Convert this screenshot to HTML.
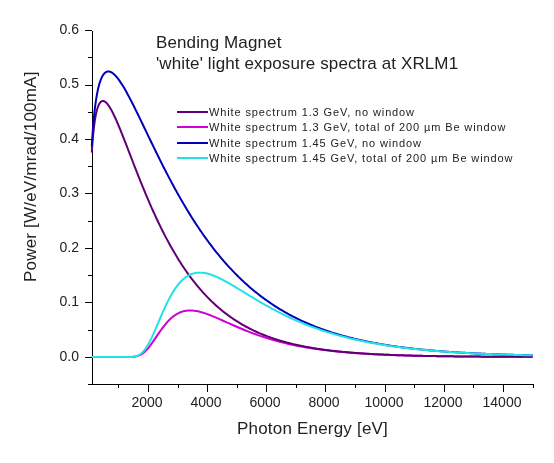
<!DOCTYPE html>
<html><head><meta charset="utf-8"><style>
html,body{margin:0;padding:0;background:#fff;}
body{width:554px;height:463px;position:relative;overflow:hidden;}
svg{position:absolute;left:0;top:0;}
.t{position:absolute;will-change:transform;font-family:"Liberation Sans",sans-serif;color:#222;white-space:pre;line-height:1;}
.yl{left:40px;width:39px;text-align:right;font-size:14px;}
.xl{top:395px;width:80px;text-align:center;font-size:14px;}
.ti{left:156px;font-size:17px;letter-spacing:0.12px;}
.lg{left:209px;font-size:11px;letter-spacing:0.88px;}
.ax{font-size:17px;letter-spacing:0.2px;}
</style></head><body>
<svg width="554" height="463" viewBox="0 0 554 463">
<g stroke="#000" stroke-width="1" fill="none" shape-rendering="crispEdges"><path d="M92.5 31 V384.5" /><path d="M85 357.5 H92" /><path d="M88 330.5 H92" /><path d="M85 302.5 H92" /><path d="M88 275.5 H92" /><path d="M85 248.5 H92" /><path d="M88 221.5 H92" /><path d="M85 193.5 H92" /><path d="M88 166.5 H92" /><path d="M85 139.5 H92" /><path d="M88 112.5 H92" /><path d="M85 85.5 H92" /><path d="M88 57.5 H92" /><path d="M85 30.5 H92" /><path d="M88 384.5 H534" /><path d="M118.5 384 V388" /><path d="M148.5 384 V392" /><path d="M178.5 384 V388" /><path d="M207.5 384 V392" /><path d="M237.5 384 V388" /><path d="M266.5 384 V392" /><path d="M296.5 384 V388" /><path d="M325.5 384 V392" /><path d="M355.5 384 V388" /><path d="M385.5 384 V392" /><path d="M414.5 384 V388" /><path d="M444.5 384 V392" /><path d="M473.5 384 V388" /><path d="M503.5 384 V392" /><path d="M533.5 384 V388" /></g>
<g fill="none" stroke-linejoin="round"><path d="M91.79 357.00 L92.08 357.00 L92.38 357.00 L92.68 357.00 L92.97 357.00 L93.27 357.00 L93.56 357.00 L93.86 357.00 L94.15 357.00 L94.45 357.00 L94.75 357.00 L95.04 357.00 L95.34 357.00 L95.63 357.00 L95.93 357.00 L96.23 357.00 L96.52 357.00 L96.82 357.00 L97.11 357.00 L97.41 357.00 L97.70 357.00 L98.00 357.00 L98.30 357.00 L98.59 357.00 L98.89 357.00 L99.18 357.00 L99.48 357.00 L99.78 357.00 L100.07 357.00 L100.37 357.00 L100.66 357.00 L100.96 357.00 L101.25 357.00 L101.55 357.00 L101.85 357.00 L102.14 357.00 L102.44 357.00 L102.73 357.00 L103.03 357.00 L103.33 357.00 L103.62 357.00 L103.92 357.00 L104.21 357.00 L104.51 357.00 L104.80 357.00 L105.10 357.00 L105.40 357.00 L105.69 357.00 L105.99 357.00 L106.28 357.00 L106.58 357.00 L106.88 357.00 L107.17 357.00 L107.47 357.00 L107.76 357.00 L108.06 357.00 L108.35 357.00 L108.65 357.00 L108.95 357.00 L109.24 357.00 L109.54 357.00 L109.83 357.00 L110.13 357.00 L110.43 357.00 L110.72 357.00 L111.02 357.00 L111.31 357.00 L111.61 357.00 L111.90 357.00 L112.20 357.00 L112.50 357.00 L112.79 357.00 L113.09 357.00 L113.38 357.00 L113.68 357.00 L113.98 357.00 L114.27 357.00 L114.57 357.00 L114.86 357.00 L115.16 357.00 L115.45 357.00 L115.75 357.00 L116.05 357.00 L116.34 357.00 L116.64 357.00 L116.93 357.00 L117.23 357.00 L117.53 357.00 L117.82 357.00 L118.12 357.00 L118.41 357.00 L119.60 357.00 L120.78 357.00 L121.96 357.00 L123.15 357.00 L124.33 357.00 L125.51 357.00 L126.70 357.00 L127.88 356.99 L129.06 356.98 L130.25 356.96 L131.43 356.92 L132.61 356.86 L133.80 356.76 L134.98 356.61 L136.16 356.39 L137.35 356.09 L138.53 355.70 L139.71 355.20 L140.90 354.59 L142.08 353.85 L143.26 352.98 L144.45 351.99 L145.63 350.88 L146.81 349.65 L148.00 348.32 L149.18 346.86 L150.36 345.32 L151.55 343.71 L152.73 342.04 L153.91 340.33 L155.10 338.60 L156.28 336.85 L157.46 335.11 L158.65 333.38 L159.83 331.67 L161.01 330.01 L162.20 328.39 L163.38 326.82 L164.56 325.31 L165.75 323.87 L166.93 322.50 L168.11 321.20 L169.30 319.98 L170.48 318.84 L171.66 317.78 L172.85 316.80 L174.03 315.89 L175.21 315.06 L176.40 314.32 L177.58 313.64 L178.76 313.03 L179.95 312.50 L181.13 312.03 L182.31 311.63 L183.50 311.30 L184.68 311.03 L185.86 310.82 L187.05 310.66 L188.23 310.56 L189.41 310.50 L190.60 310.50 L191.78 310.54 L192.96 310.62 L194.15 310.74 L195.33 310.90 L196.51 311.10 L197.70 311.33 L198.88 311.59 L200.06 311.88 L201.25 312.19 L202.43 312.53 L203.61 312.89 L204.80 313.27 L205.98 313.67 L207.16 314.08 L208.35 314.52 L209.53 314.97 L210.71 315.43 L211.90 315.91 L213.08 316.39 L214.26 316.89 L215.45 317.39 L216.63 317.89 L217.81 318.41 L219.00 318.92 L220.18 319.44 L221.36 319.97 L222.55 320.49 L223.73 321.02 L224.91 321.55 L226.10 322.08 L227.28 322.61 L228.46 323.14 L229.65 323.66 L230.83 324.19 L232.01 324.71 L233.20 325.23 L234.38 325.75 L235.56 326.26 L236.75 326.77 L237.93 327.28 L239.11 327.79 L240.29 328.29 L241.48 328.78 L242.66 329.28 L243.84 329.76 L245.03 330.24 L246.21 330.72 L247.39 331.19 L248.58 331.65 L249.76 332.11 L250.94 332.56 L252.13 333.01 L253.31 333.45 L254.49 333.89 L255.68 334.31 L256.86 334.74 L258.04 335.15 L259.23 335.57 L260.41 335.97 L261.59 336.37 L262.78 336.76 L263.96 337.15 L265.14 337.53 L266.33 337.90 L267.51 338.27 L268.69 338.64 L269.88 339.00 L271.06 339.35 L272.24 339.70 L273.43 340.04 L274.61 340.37 L275.79 340.70 L276.98 341.03 L278.16 341.35 L279.34 341.66 L280.53 341.96 L281.71 342.27 L282.89 342.56 L284.08 342.85 L285.26 343.14 L286.44 343.42 L287.63 343.69 L288.81 343.96 L289.99 344.23 L291.18 344.49 L292.36 344.74 L293.54 344.99 L294.73 345.24 L295.91 345.48 L297.09 345.72 L298.28 345.95 L299.46 346.18 L300.64 346.40 L301.83 346.62 L303.01 346.83 L304.19 347.04 L305.38 347.25 L306.56 347.45 L307.74 347.65 L308.93 347.84 L310.11 348.04 L311.29 348.22 L312.48 348.41 L313.66 348.59 L314.84 348.76 L316.03 348.93 L317.21 349.10 L318.39 349.27 L319.58 349.43 L320.76 349.59 L321.94 349.75 L323.13 349.90 L324.31 350.05 L325.49 350.20 L326.68 350.34 L327.86 350.48 L329.04 350.62 L330.23 350.76 L331.41 350.89 L332.59 351.02 L333.78 351.15 L334.96 351.27 L336.14 351.40 L337.33 351.52 L338.51 351.63 L339.69 351.75 L340.88 351.86 L342.06 351.97 L343.24 352.08 L344.43 352.18 L345.61 352.29 L346.79 352.39 L347.98 352.49 L349.16 352.59 L350.34 352.68 L351.53 352.77 L352.71 352.86 L353.89 352.95 L355.08 353.04 L356.26 353.13 L357.44 353.21 L358.63 353.29 L359.81 353.37 L360.99 353.45 L362.18 353.53 L363.36 353.60 L364.54 353.68 L365.73 353.75 L366.91 353.82 L368.09 353.89 L369.28 353.96 L370.46 354.02 L371.64 354.09 L372.83 354.15 L374.01 354.21 L375.19 354.27 L376.38 354.33 L377.56 354.39 L378.74 354.45 L379.93 354.50 L381.11 354.56 L382.29 354.61 L383.48 354.66 L384.66 354.71 L385.84 354.76 L387.03 354.81 L388.21 354.86 L389.39 354.91 L390.58 354.95 L391.76 355.00 L392.94 355.04 L394.13 355.09 L395.31 355.13 L396.49 355.17 L397.68 355.21 L398.86 355.25 L400.04 355.29 L401.23 355.32 L402.41 355.36 L403.59 355.40 L404.78 355.43 L405.96 355.47 L407.14 355.50 L408.33 355.53 L409.51 355.57 L410.69 355.60 L411.88 355.63 L413.06 355.66 L414.24 355.69 L415.43 355.72 L416.61 355.75 L417.79 355.77 L418.98 355.80 L420.16 355.83 L421.34 355.85 L422.53 355.88 L423.71 355.90 L424.89 355.93 L426.08 355.95 L427.26 355.98 L428.44 356.00 L429.63 356.02 L430.81 356.04 L431.99 356.06 L433.18 356.08 L434.36 356.10 L435.54 356.12 L436.73 356.14 L437.91 356.16 L439.09 356.18 L440.28 356.20 L441.46 356.22 L442.64 356.23 L443.83 356.25 L445.01 356.27 L446.19 356.28 L447.38 356.30 L448.56 356.32 L449.74 356.33 L450.93 356.35 L452.11 356.36 L453.29 356.37 L454.48 356.39 L455.66 356.40 L456.84 356.42 L458.03 356.43 L459.21 356.44 L460.39 356.45 L461.58 356.47 L462.76 356.48 L463.94 356.49 L465.13 356.50 L466.31 356.51 L467.49 356.52 L468.68 356.53 L469.86 356.54 L471.04 356.55 L472.23 356.56 L473.41 356.57 L474.59 356.58 L475.78 356.59 L476.96 356.60 L478.14 356.61 L479.33 356.62 L480.51 356.63 L481.69 356.64 L482.88 356.64 L484.06 356.65 L485.24 356.66 L486.43 356.67 L487.61 356.68 L488.79 356.68 L489.98 356.69 L491.16 356.70 L492.34 356.70 L493.53 356.71 L494.71 356.72 L495.89 356.72 L497.08 356.73 L498.26 356.74 L499.44 356.74 L500.63 356.75 L501.81 356.75 L502.99 356.76 L504.18 356.76 L505.36 356.77 L506.54 356.77 L507.73 356.78 L508.91 356.78 L510.09 356.79 L511.28 356.79 L512.46 356.80 L513.64 356.80 L514.83 356.81 L516.01 356.81 L517.19 356.82 L518.38 356.82 L519.56 356.82 L520.74 356.83 L521.93 356.83 L523.11 356.84 L524.29 356.84 L525.48 356.84 L526.66 356.85 L527.84 356.85 L529.03 356.85 L530.21 356.86 L531.39 356.86 L532.58 356.86" stroke="#d000d8" stroke-width="2" fill="none"/><path d="M91.79 152.50 L92.08 147.92 L92.38 143.79 L92.68 140.03 L92.97 136.60 L93.27 133.47 L93.56 130.60 L93.86 127.96 L94.15 125.53 L94.45 123.30 L94.75 121.23 L95.04 119.33 L95.34 117.57 L95.63 115.94 L95.93 114.44 L96.23 113.05 L96.52 111.77 L96.82 110.59 L97.11 109.51 L97.41 108.51 L97.70 107.59 L98.00 106.75 L98.30 105.98 L98.59 105.29 L98.89 104.65 L99.18 104.08 L99.48 103.57 L99.78 103.11 L100.07 102.70 L100.37 102.34 L100.66 102.03 L100.96 101.76 L101.25 101.54 L101.55 101.36 L101.85 101.22 L102.14 101.11 L102.44 101.04 L102.73 101.00 L103.03 101.00 L103.33 101.03 L103.62 101.09 L103.92 101.17 L104.21 101.28 L104.51 101.42 L104.80 101.59 L105.10 101.78 L105.40 101.99 L105.69 102.23 L105.99 102.48 L106.28 102.76 L106.58 103.06 L106.88 103.37 L107.17 103.71 L107.47 104.06 L107.76 104.43 L108.06 104.81 L108.35 105.22 L108.65 105.63 L108.95 106.06 L109.24 106.51 L109.54 106.97 L109.83 107.44 L110.13 107.93 L110.43 108.42 L110.72 108.93 L111.02 109.45 L111.31 109.99 L111.61 110.53 L111.90 111.08 L112.20 111.64 L112.50 112.21 L112.79 112.79 L113.09 113.38 L113.38 113.98 L113.68 114.58 L113.98 115.20 L114.27 115.82 L114.57 116.45 L114.86 117.08 L115.16 117.72 L115.45 118.37 L115.75 119.03 L116.05 119.69 L116.34 120.35 L116.64 121.02 L116.93 121.70 L117.23 122.38 L117.53 123.07 L117.82 123.76 L118.12 124.46 L118.41 125.16 L119.60 128.00 L120.78 130.90 L121.96 133.84 L123.15 136.83 L124.33 139.84 L125.51 142.87 L126.70 145.92 L127.88 148.99 L129.06 152.06 L130.25 155.13 L131.43 158.20 L132.61 161.26 L133.80 164.32 L134.98 167.36 L136.16 170.39 L137.35 173.40 L138.53 176.39 L139.71 179.36 L140.90 182.30 L142.08 185.23 L143.26 188.12 L144.45 190.99 L145.63 193.83 L146.81 196.64 L148.00 199.42 L149.18 202.17 L150.36 204.89 L151.55 207.57 L152.73 210.23 L153.91 212.84 L155.10 215.43 L156.28 217.98 L157.46 220.50 L158.65 222.98 L159.83 225.43 L161.01 227.84 L162.20 230.22 L163.38 232.56 L164.56 234.87 L165.75 237.14 L166.93 239.38 L168.11 241.59 L169.30 243.76 L170.48 245.90 L171.66 248.00 L172.85 250.07 L174.03 252.11 L175.21 254.11 L176.40 256.08 L177.58 258.02 L178.76 259.92 L179.95 261.80 L181.13 263.64 L182.31 265.45 L183.50 267.23 L184.68 268.98 L185.86 270.70 L187.05 272.39 L188.23 274.05 L189.41 275.68 L190.60 277.28 L191.78 278.85 L192.96 280.40 L194.15 281.91 L195.33 283.40 L196.51 284.87 L197.70 286.30 L198.88 287.71 L200.06 289.10 L201.25 290.46 L202.43 291.79 L203.61 293.10 L204.80 294.38 L205.98 295.65 L207.16 296.88 L208.35 298.10 L209.53 299.29 L210.71 300.46 L211.90 301.60 L213.08 302.73 L214.26 303.83 L215.45 304.92 L216.63 305.98 L217.81 307.02 L219.00 308.04 L220.18 309.04 L221.36 310.03 L222.55 310.99 L223.73 311.94 L224.91 312.86 L226.10 313.77 L227.28 314.66 L228.46 315.54 L229.65 316.39 L230.83 317.23 L232.01 318.05 L233.20 318.86 L234.38 319.65 L235.56 320.43 L236.75 321.19 L237.93 321.93 L239.11 322.66 L240.29 323.38 L241.48 324.08 L242.66 324.77 L243.84 325.44 L245.03 326.10 L246.21 326.75 L247.39 327.38 L248.58 328.00 L249.76 328.61 L250.94 329.20 L252.13 329.79 L253.31 330.36 L254.49 330.92 L255.68 331.47 L256.86 332.01 L258.04 332.54 L259.23 333.05 L260.41 333.56 L261.59 334.05 L262.78 334.54 L263.96 335.01 L265.14 335.48 L266.33 335.94 L267.51 336.38 L268.69 336.82 L269.88 337.25 L271.06 337.67 L272.24 338.08 L273.43 338.48 L274.61 338.88 L275.79 339.26 L276.98 339.64 L278.16 340.01 L279.34 340.37 L280.53 340.73 L281.71 341.08 L282.89 341.42 L284.08 341.75 L285.26 342.08 L286.44 342.40 L287.63 342.71 L288.81 343.02 L289.99 343.32 L291.18 343.61 L292.36 343.90 L293.54 344.18 L294.73 344.45 L295.91 344.72 L297.09 344.99 L298.28 345.25 L299.46 345.50 L300.64 345.75 L301.83 345.99 L303.01 346.23 L304.19 346.46 L305.38 346.69 L306.56 346.91 L307.74 347.13 L308.93 347.34 L310.11 347.55 L311.29 347.76 L312.48 347.96 L313.66 348.15 L314.84 348.34 L316.03 348.53 L317.21 348.71 L318.39 348.89 L319.58 349.07 L320.76 349.24 L321.94 349.41 L323.13 349.58 L324.31 349.74 L325.49 349.89 L326.68 350.05 L327.86 350.20 L329.04 350.35 L330.23 350.49 L331.41 350.64 L332.59 350.77 L333.78 350.91 L334.96 351.04 L336.14 351.17 L337.33 351.30 L338.51 351.42 L339.69 351.55 L340.88 351.67 L342.06 351.78 L343.24 351.90 L344.43 352.01 L345.61 352.12 L346.79 352.22 L347.98 352.33 L349.16 352.43 L350.34 352.53 L351.53 352.63 L352.71 352.72 L353.89 352.82 L355.08 352.91 L356.26 353.00 L357.44 353.09 L358.63 353.17 L359.81 353.26 L360.99 353.34 L362.18 353.42 L363.36 353.50 L364.54 353.58 L365.73 353.65 L366.91 353.72 L368.09 353.80 L369.28 353.87 L370.46 353.94 L371.64 354.00 L372.83 354.07 L374.01 354.13 L375.19 354.20 L376.38 354.26 L377.56 354.32 L378.74 354.38 L379.93 354.44 L381.11 354.49 L382.29 354.55 L383.48 354.60 L384.66 354.66 L385.84 354.71 L387.03 354.76 L388.21 354.81 L389.39 354.86 L390.58 354.90 L391.76 354.95 L392.94 355.00 L394.13 355.04 L395.31 355.08 L396.49 355.13 L397.68 355.17 L398.86 355.21 L400.04 355.25 L401.23 355.29 L402.41 355.32 L403.59 355.36 L404.78 355.40 L405.96 355.43 L407.14 355.47 L408.33 355.50 L409.51 355.54 L410.69 355.57 L411.88 355.60 L413.06 355.63 L414.24 355.66 L415.43 355.69 L416.61 355.72 L417.79 355.75 L418.98 355.78 L420.16 355.80 L421.34 355.83 L422.53 355.86 L423.71 355.88 L424.89 355.91 L426.08 355.93 L427.26 355.95 L428.44 355.98 L429.63 356.00 L430.81 356.02 L431.99 356.04 L433.18 356.07 L434.36 356.09 L435.54 356.11 L436.73 356.13 L437.91 356.15 L439.09 356.17 L440.28 356.18 L441.46 356.20 L442.64 356.22 L443.83 356.24 L445.01 356.25 L446.19 356.27 L447.38 356.29 L448.56 356.30 L449.74 356.32 L450.93 356.33 L452.11 356.35 L453.29 356.36 L454.48 356.38 L455.66 356.39 L456.84 356.41 L458.03 356.42 L459.21 356.43 L460.39 356.44 L461.58 356.46 L462.76 356.47 L463.94 356.48 L465.13 356.49 L466.31 356.50 L467.49 356.52 L468.68 356.53 L469.86 356.54 L471.04 356.55 L472.23 356.56 L473.41 356.57 L474.59 356.58 L475.78 356.59 L476.96 356.60 L478.14 356.60 L479.33 356.61 L480.51 356.62 L481.69 356.63 L482.88 356.64 L484.06 356.65 L485.24 356.66 L486.43 356.66 L487.61 356.67 L488.79 356.68 L489.98 356.69 L491.16 356.69 L492.34 356.70 L493.53 356.71 L494.71 356.71 L495.89 356.72 L497.08 356.73 L498.26 356.73 L499.44 356.74 L500.63 356.74 L501.81 356.75 L502.99 356.75 L504.18 356.76 L505.36 356.77 L506.54 356.77 L507.73 356.78 L508.91 356.78 L510.09 356.79 L511.28 356.79 L512.46 356.80 L513.64 356.80 L514.83 356.80 L516.01 356.81 L517.19 356.81 L518.38 356.82 L519.56 356.82 L520.74 356.83 L521.93 356.83 L523.11 356.83 L524.29 356.84 L525.48 356.84 L526.66 356.84 L527.84 356.85 L529.03 356.85 L530.21 356.85 L531.39 356.86 L532.58 356.86" stroke="#600074" stroke-width="2" fill="none"/><path d="M91.79 146.62 L92.08 141.46 L92.38 136.75 L92.68 132.42 L92.97 128.43 L93.27 124.73 L93.56 121.29 L93.86 118.09 L94.15 115.11 L94.45 112.31 L94.75 109.69 L95.04 107.24 L95.34 104.93 L95.63 102.76 L95.93 100.71 L96.23 98.78 L96.52 96.97 L96.82 95.25 L97.11 93.64 L97.41 92.11 L97.70 90.67 L98.00 89.31 L98.30 88.02 L98.59 86.81 L98.89 85.66 L99.18 84.58 L99.48 83.55 L99.78 82.59 L100.07 81.68 L100.37 80.83 L100.66 80.02 L100.96 79.27 L101.25 78.55 L101.55 77.89 L101.85 77.26 L102.14 76.68 L102.44 76.13 L102.73 75.62 L103.03 75.15 L103.33 74.71 L103.62 74.30 L103.92 73.93 L104.21 73.59 L104.51 73.27 L104.80 72.99 L105.10 72.73 L105.40 72.50 L105.69 72.29 L105.99 72.11 L106.28 71.95 L106.58 71.82 L106.88 71.71 L107.17 71.62 L107.47 71.55 L107.76 71.50 L108.06 71.47 L108.35 71.46 L108.65 71.47 L108.95 71.49 L109.24 71.54 L109.54 71.60 L109.83 71.67 L110.13 71.76 L110.43 71.87 L110.72 71.99 L111.02 72.13 L111.31 72.28 L111.61 72.44 L111.90 72.62 L112.20 72.81 L112.50 73.01 L112.79 73.23 L113.09 73.45 L113.38 73.69 L113.68 73.94 L113.98 74.20 L114.27 74.47 L114.57 74.75 L114.86 75.04 L115.16 75.34 L115.45 75.65 L115.75 75.97 L116.05 76.30 L116.34 76.64 L116.64 76.98 L116.93 77.34 L117.23 77.70 L117.53 78.07 L117.82 78.45 L118.12 78.83 L118.41 79.22 L119.60 80.86 L120.78 82.60 L121.96 84.43 L123.15 86.34 L124.33 88.32 L125.51 90.37 L126.70 92.48 L127.88 94.65 L129.06 96.86 L130.25 99.11 L131.43 101.40 L132.61 103.72 L133.80 106.07 L134.98 108.44 L136.16 110.84 L137.35 113.25 L138.53 115.68 L139.71 118.12 L140.90 120.58 L142.08 123.03 L143.26 125.50 L144.45 127.97 L145.63 130.44 L146.81 132.90 L148.00 135.37 L149.18 137.83 L150.36 140.29 L151.55 142.74 L152.73 145.19 L153.91 147.63 L155.10 150.05 L156.28 152.47 L157.46 154.88 L158.65 157.27 L159.83 159.65 L161.01 162.02 L162.20 164.37 L163.38 166.71 L164.56 169.03 L165.75 171.33 L166.93 173.62 L168.11 175.90 L169.30 178.15 L170.48 180.39 L171.66 182.61 L172.85 184.81 L174.03 187.00 L175.21 189.16 L176.40 191.31 L177.58 193.43 L178.76 195.54 L179.95 197.63 L181.13 199.70 L182.31 201.75 L183.50 203.77 L184.68 205.78 L185.86 207.77 L187.05 209.74 L188.23 211.69 L189.41 213.62 L190.60 215.53 L191.78 217.41 L192.96 219.28 L194.15 221.13 L195.33 222.96 L196.51 224.77 L197.70 226.55 L198.88 228.32 L200.06 230.07 L201.25 231.80 L202.43 233.51 L203.61 235.20 L204.80 236.87 L205.98 238.52 L207.16 240.15 L208.35 241.76 L209.53 243.36 L210.71 244.93 L211.90 246.48 L213.08 248.02 L214.26 249.54 L215.45 251.04 L216.63 252.52 L217.81 253.98 L219.00 255.43 L220.18 256.86 L221.36 258.27 L222.55 259.66 L223.73 261.03 L224.91 262.39 L226.10 263.73 L227.28 265.05 L228.46 266.36 L229.65 267.65 L230.83 268.92 L232.01 270.18 L233.20 271.42 L234.38 272.64 L235.56 273.85 L236.75 275.04 L237.93 276.22 L239.11 277.38 L240.29 278.53 L241.48 279.66 L242.66 280.78 L243.84 281.88 L245.03 282.97 L246.21 284.04 L247.39 285.10 L248.58 286.14 L249.76 287.17 L250.94 288.19 L252.13 289.19 L253.31 290.18 L254.49 291.15 L255.68 292.12 L256.86 293.07 L258.04 294.00 L259.23 294.93 L260.41 295.84 L261.59 296.74 L262.78 297.62 L263.96 298.50 L265.14 299.36 L266.33 300.21 L267.51 301.04 L268.69 301.87 L269.88 302.69 L271.06 303.49 L272.24 304.28 L273.43 305.06 L274.61 305.83 L275.79 306.59 L276.98 307.34 L278.16 308.08 L279.34 308.81 L280.53 309.53 L281.71 310.23 L282.89 310.93 L284.08 311.62 L285.26 312.30 L286.44 312.97 L287.63 313.62 L288.81 314.27 L289.99 314.91 L291.18 315.54 L292.36 316.17 L293.54 316.78 L294.73 317.38 L295.91 317.98 L297.09 318.57 L298.28 319.15 L299.46 319.72 L300.64 320.28 L301.83 320.83 L303.01 321.38 L304.19 321.92 L305.38 322.45 L306.56 322.97 L307.74 323.48 L308.93 323.99 L310.11 324.49 L311.29 324.98 L312.48 325.47 L313.66 325.95 L314.84 326.42 L316.03 326.88 L317.21 327.34 L318.39 327.79 L319.58 328.24 L320.76 328.67 L321.94 329.11 L323.13 329.53 L324.31 329.95 L325.49 330.36 L326.68 330.77 L327.86 331.17 L329.04 331.57 L330.23 331.95 L331.41 332.34 L332.59 332.71 L333.78 333.09 L334.96 333.45 L336.14 333.81 L337.33 334.17 L338.51 334.52 L339.69 334.87 L340.88 335.21 L342.06 335.54 L343.24 335.87 L344.43 336.19 L345.61 336.51 L346.79 336.83 L347.98 337.14 L349.16 337.45 L350.34 337.75 L351.53 338.04 L352.71 338.34 L353.89 338.63 L355.08 338.91 L356.26 339.19 L357.44 339.46 L358.63 339.73 L359.81 340.00 L360.99 340.26 L362.18 340.52 L363.36 340.78 L364.54 341.03 L365.73 341.28 L366.91 341.52 L368.09 341.76 L369.28 342.00 L370.46 342.23 L371.64 342.46 L372.83 342.69 L374.01 342.91 L375.19 343.13 L376.38 343.34 L377.56 343.56 L378.74 343.76 L379.93 343.97 L381.11 344.17 L382.29 344.37 L383.48 344.57 L384.66 344.76 L385.84 344.95 L387.03 345.14 L388.21 345.33 L389.39 345.51 L390.58 345.69 L391.76 345.87 L392.94 346.04 L394.13 346.21 L395.31 346.38 L396.49 346.55 L397.68 346.71 L398.86 346.87 L400.04 347.03 L401.23 347.18 L402.41 347.34 L403.59 347.49 L404.78 347.64 L405.96 347.79 L407.14 347.93 L408.33 348.07 L409.51 348.21 L410.69 348.35 L411.88 348.49 L413.06 348.62 L414.24 348.75 L415.43 348.88 L416.61 349.01 L417.79 349.13 L418.98 349.26 L420.16 349.38 L421.34 349.50 L422.53 349.62 L423.71 349.73 L424.89 349.85 L426.08 349.96 L427.26 350.07 L428.44 350.18 L429.63 350.29 L430.81 350.39 L431.99 350.50 L433.18 350.60 L434.36 350.70 L435.54 350.80 L436.73 350.90 L437.91 351.00 L439.09 351.09 L440.28 351.18 L441.46 351.28 L442.64 351.37 L443.83 351.46 L445.01 351.54 L446.19 351.63 L447.38 351.71 L448.56 351.80 L449.74 351.88 L450.93 351.96 L452.11 352.04 L453.29 352.12 L454.48 352.20 L455.66 352.27 L456.84 352.35 L458.03 352.42 L459.21 352.49 L460.39 352.57 L461.58 352.64 L462.76 352.71 L463.94 352.77 L465.13 352.84 L466.31 352.91 L467.49 352.97 L468.68 353.04 L469.86 353.10 L471.04 353.16 L472.23 353.22 L473.41 353.28 L474.59 353.34 L475.78 353.40 L476.96 353.46 L478.14 353.51 L479.33 353.57 L480.51 353.62 L481.69 353.68 L482.88 353.73 L484.06 353.78 L485.24 353.83 L486.43 353.88 L487.61 353.93 L488.79 353.98 L489.98 354.03 L491.16 354.08 L492.34 354.12 L493.53 354.17 L494.71 354.22 L495.89 354.26 L497.08 354.30 L498.26 354.35 L499.44 354.39 L500.63 354.43 L501.81 354.47 L502.99 354.51 L504.18 354.55 L505.36 354.59 L506.54 354.63 L507.73 354.67 L508.91 354.70 L510.09 354.74 L511.28 354.78 L512.46 354.81 L513.64 354.85 L514.83 354.88 L516.01 354.92 L517.19 354.95 L518.38 354.98 L519.56 355.02 L520.74 355.05 L521.93 355.08 L523.11 355.11 L524.29 355.14 L525.48 355.17 L526.66 355.20 L527.84 355.23 L529.03 355.26 L530.21 355.28 L531.39 355.31 L532.58 355.34" stroke="#0000b8" stroke-width="2" fill="none"/><path d="M91.79 357.00 L92.08 357.00 L92.38 357.00 L92.68 357.00 L92.97 357.00 L93.27 357.00 L93.56 357.00 L93.86 357.00 L94.15 357.00 L94.45 357.00 L94.75 357.00 L95.04 357.00 L95.34 357.00 L95.63 357.00 L95.93 357.00 L96.23 357.00 L96.52 357.00 L96.82 357.00 L97.11 357.00 L97.41 357.00 L97.70 357.00 L98.00 357.00 L98.30 357.00 L98.59 357.00 L98.89 357.00 L99.18 357.00 L99.48 357.00 L99.78 357.00 L100.07 357.00 L100.37 357.00 L100.66 357.00 L100.96 357.00 L101.25 357.00 L101.55 357.00 L101.85 357.00 L102.14 357.00 L102.44 357.00 L102.73 357.00 L103.03 357.00 L103.33 357.00 L103.62 357.00 L103.92 357.00 L104.21 357.00 L104.51 357.00 L104.80 357.00 L105.10 357.00 L105.40 357.00 L105.69 357.00 L105.99 357.00 L106.28 357.00 L106.58 357.00 L106.88 357.00 L107.17 357.00 L107.47 357.00 L107.76 357.00 L108.06 357.00 L108.35 357.00 L108.65 357.00 L108.95 357.00 L109.24 357.00 L109.54 357.00 L109.83 357.00 L110.13 357.00 L110.43 357.00 L110.72 357.00 L111.02 357.00 L111.31 357.00 L111.61 357.00 L111.90 357.00 L112.20 357.00 L112.50 357.00 L112.79 357.00 L113.09 357.00 L113.38 357.00 L113.68 357.00 L113.98 357.00 L114.27 357.00 L114.57 357.00 L114.86 357.00 L115.16 357.00 L115.45 357.00 L115.75 357.00 L116.05 357.00 L116.34 357.00 L116.64 357.00 L116.93 357.00 L117.23 357.00 L117.53 357.00 L117.82 357.00 L118.12 357.00 L118.41 357.00 L119.60 357.00 L120.78 357.00 L121.96 357.00 L123.15 357.00 L124.33 357.00 L125.51 357.00 L126.70 357.00 L127.88 356.99 L129.06 356.98 L130.25 356.95 L131.43 356.90 L132.61 356.82 L133.80 356.69 L134.98 356.49 L136.16 356.20 L137.35 355.80 L138.53 355.26 L139.71 354.58 L140.90 353.73 L142.08 352.71 L143.26 351.49 L144.45 350.09 L145.63 348.50 L146.81 346.73 L148.00 344.79 L149.18 342.65 L150.36 340.36 L151.55 337.95 L152.73 335.42 L153.91 332.79 L155.10 330.10 L156.28 327.36 L157.46 324.58 L158.65 321.80 L159.83 319.01 L161.01 316.25 L162.20 313.53 L163.38 310.85 L164.56 308.23 L165.75 305.68 L166.93 303.21 L168.11 300.83 L169.30 298.54 L170.48 296.34 L171.66 294.25 L172.85 292.26 L174.03 290.37 L175.21 288.59 L176.40 286.92 L177.58 285.35 L178.76 283.88 L179.95 282.51 L181.13 281.24 L182.31 280.07 L183.50 279.00 L184.68 278.02 L185.86 277.14 L187.05 276.35 L188.23 275.64 L189.41 275.02 L190.60 274.48 L191.78 274.01 L192.96 273.62 L194.15 273.30 L195.33 273.05 L196.51 272.86 L197.70 272.73 L198.88 272.66 L200.06 272.65 L201.25 272.69 L202.43 272.78 L203.61 272.92 L204.80 273.10 L205.98 273.32 L207.16 273.58 L208.35 273.89 L209.53 274.24 L210.71 274.62 L211.90 275.02 L213.08 275.46 L214.26 275.92 L215.45 276.41 L216.63 276.92 L217.81 277.45 L219.00 278.00 L220.18 278.57 L221.36 279.16 L222.55 279.76 L223.73 280.38 L224.91 281.01 L226.10 281.65 L227.28 282.31 L228.46 282.97 L229.65 283.65 L230.83 284.33 L232.01 285.02 L233.20 285.71 L234.38 286.41 L235.56 287.12 L236.75 287.83 L237.93 288.55 L239.11 289.27 L240.29 289.99 L241.48 290.72 L242.66 291.44 L243.84 292.17 L245.03 292.89 L246.21 293.62 L247.39 294.34 L248.58 295.06 L249.76 295.78 L250.94 296.50 L252.13 297.22 L253.31 297.93 L254.49 298.64 L255.68 299.34 L256.86 300.05 L258.04 300.75 L259.23 301.44 L260.41 302.13 L261.59 302.82 L262.78 303.50 L263.96 304.17 L265.14 304.85 L266.33 305.51 L267.51 306.18 L268.69 306.84 L269.88 307.50 L271.06 308.15 L272.24 308.79 L273.43 309.43 L274.61 310.06 L275.79 310.69 L276.98 311.31 L278.16 311.92 L279.34 312.53 L280.53 313.13 L281.71 313.73 L282.89 314.31 L284.08 314.90 L285.26 315.47 L286.44 316.04 L287.63 316.61 L288.81 317.17 L289.99 317.72 L291.18 318.26 L292.36 318.80 L293.54 319.33 L294.73 319.86 L295.91 320.38 L297.09 320.90 L298.28 321.40 L299.46 321.91 L300.64 322.40 L301.83 322.89 L303.01 323.38 L304.19 323.86 L305.38 324.33 L306.56 324.79 L307.74 325.26 L308.93 325.71 L310.11 326.16 L311.29 326.60 L312.48 327.04 L313.66 327.47 L314.84 327.90 L316.03 328.32 L317.21 328.74 L318.39 329.15 L319.58 329.55 L320.76 329.95 L321.94 330.35 L323.13 330.74 L324.31 331.12 L325.49 331.50 L326.68 331.88 L327.86 332.25 L329.04 332.61 L330.23 332.97 L331.41 333.33 L332.59 333.68 L333.78 334.03 L334.96 334.37 L336.14 334.70 L337.33 335.04 L338.51 335.36 L339.69 335.69 L340.88 336.00 L342.06 336.32 L343.24 336.63 L344.43 336.93 L345.61 337.23 L346.79 337.53 L347.98 337.82 L349.16 338.11 L350.34 338.39 L351.53 338.67 L352.71 338.95 L353.89 339.22 L355.08 339.49 L356.26 339.75 L357.44 340.01 L358.63 340.27 L359.81 340.52 L360.99 340.77 L362.18 341.02 L363.36 341.26 L364.54 341.50 L365.73 341.74 L366.91 341.97 L368.09 342.20 L369.28 342.42 L370.46 342.64 L371.64 342.86 L372.83 343.08 L374.01 343.29 L375.19 343.50 L376.38 343.71 L377.56 343.91 L378.74 344.11 L379.93 344.31 L381.11 344.50 L382.29 344.69 L383.48 344.88 L384.66 345.07 L385.84 345.25 L387.03 345.43 L388.21 345.61 L389.39 345.79 L390.58 345.96 L391.76 346.13 L392.94 346.30 L394.13 346.46 L395.31 346.63 L396.49 346.79 L397.68 346.94 L398.86 347.10 L400.04 347.25 L401.23 347.40 L402.41 347.55 L403.59 347.70 L404.78 347.84 L405.96 347.99 L407.14 348.13 L408.33 348.26 L409.51 348.40 L410.69 348.53 L411.88 348.67 L413.06 348.80 L414.24 348.92 L415.43 349.05 L416.61 349.17 L417.79 349.29 L418.98 349.41 L420.16 349.53 L421.34 349.65 L422.53 349.76 L423.71 349.88 L424.89 349.99 L426.08 350.10 L427.26 350.21 L428.44 350.31 L429.63 350.42 L430.81 350.52 L431.99 350.62 L433.18 350.72 L434.36 350.82 L435.54 350.92 L436.73 351.01 L437.91 351.11 L439.09 351.20 L440.28 351.29 L441.46 351.38 L442.64 351.47 L443.83 351.55 L445.01 351.64 L446.19 351.72 L447.38 351.81 L448.56 351.89 L449.74 351.97 L450.93 352.05 L452.11 352.13 L453.29 352.20 L454.48 352.28 L455.66 352.35 L456.84 352.43 L458.03 352.50 L459.21 352.57 L460.39 352.64 L461.58 352.71 L462.76 352.78 L463.94 352.84 L465.13 352.91 L466.31 352.97 L467.49 353.04 L468.68 353.10 L469.86 353.16 L471.04 353.22 L472.23 353.28 L473.41 353.34 L474.59 353.40 L475.78 353.45 L476.96 353.51 L478.14 353.57 L479.33 353.62 L480.51 353.67 L481.69 353.73 L482.88 353.78 L484.06 353.83 L485.24 353.88 L486.43 353.93 L487.61 353.98 L488.79 354.03 L489.98 354.07 L491.16 354.12 L492.34 354.17 L493.53 354.21 L494.71 354.25 L495.89 354.30 L497.08 354.34 L498.26 354.38 L499.44 354.42 L500.63 354.47 L501.81 354.51 L502.99 354.55 L504.18 354.58 L505.36 354.62 L506.54 354.66 L507.73 354.70 L508.91 354.73 L510.09 354.77 L511.28 354.81 L512.46 354.84 L513.64 354.88 L514.83 354.91 L516.01 354.94 L517.19 354.98 L518.38 355.01 L519.56 355.04 L520.74 355.07 L521.93 355.10 L523.11 355.13 L524.29 355.16 L525.48 355.19 L526.66 355.22 L527.84 355.25 L529.03 355.28 L530.21 355.30 L531.39 355.33 L532.58 355.36" stroke="#22e2e6" stroke-width="2" fill="none"/></g>
<g shape-rendering="crispEdges"><path d="M177 112.0 H208" stroke="#600074" stroke-width="2"/><path d="M177 127.0 H208" stroke="#d000d8" stroke-width="2"/><path d="M177 143.0 H208" stroke="#0000b8" stroke-width="2"/><path d="M177 158.0 H208" stroke="#22e2e6" stroke-width="2"/></g>
</svg>
<div class="t yl" style="top:349px">0.0</div><div class="t yl" style="top:294px">0.1</div><div class="t yl" style="top:240px">0.2</div><div class="t yl" style="top:185px">0.3</div><div class="t yl" style="top:131px">0.4</div><div class="t yl" style="top:76px">0.5</div><div class="t yl" style="top:22px">0.6</div><div class="t xl" style="left:107px">2000</div><div class="t xl" style="left:166px">4000</div><div class="t xl" style="left:225px">6000</div><div class="t xl" style="left:284px">8000</div><div class="t xl" style="left:344px">10000</div><div class="t xl" style="left:403px">12000</div><div class="t xl" style="left:462px">14000</div>
<div class="t ti" style="top:34px">Bending Magnet</div>
<div class="t ti" style="top:55px">'white' light exposure spectra at XRLM1</div>
<div class="t lg" style="top:107px">White spectrum 1.3 GeV, no window</div><div class="t lg" style="top:122px">White spectrum 1.3 GeV, total of 200 &micro;m Be window</div><div class="t lg" style="top:138px">White spectrum 1.45 GeV, no window</div><div class="t lg" style="top:153px">White spectrum 1.45 GeV, total of 200 &micro;m Be window</div>
<div class="t ax" style="left:237px;top:420px">Photon Energy [eV]</div>
<div class="t ax" style="left:22px;top:282px;transform-origin:0 0;transform:rotate(-90deg)">Power [W/eV/mrad/100mA]</div>
</body></html>
